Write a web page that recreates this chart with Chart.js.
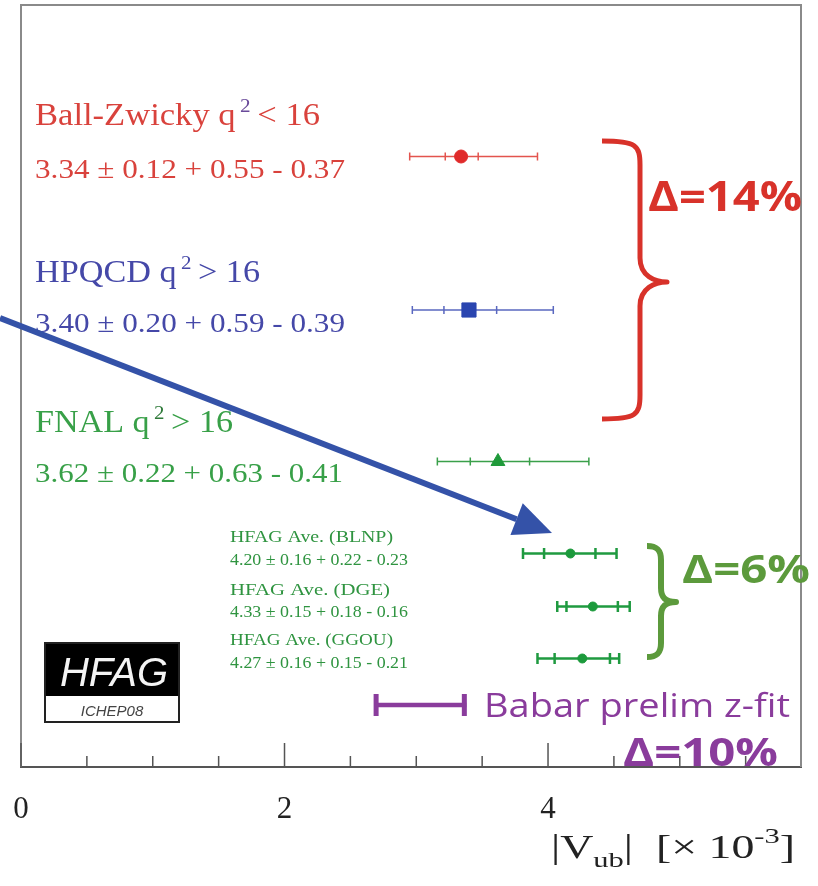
<!DOCTYPE html>
<html>
<head>
<meta charset="utf-8">
<script src="https://cdn.jsdelivr.net/npm/chart.js@4.4.0/dist/chart.umd.min.js"></script>
<style>
html, body { margin: 0; padding: 0; background: #fff; }
#wrap { width: 818px; height: 886px; }
</style>
</head>
<body>
<div id="wrap"><canvas id="vubChart" width="818" height="886"></canvas></div>
<script>
// |Vub| results, x in units of 10^-3, rows counted from the top
const rowNames = ['Ball-Zwicky', 'HPQCD', 'FNAL', 'HFAG BLNP', 'HFAG DGE', 'HFAG GGOU'];
const rowPos = [3.03, 6.1, 9.13, 10.97, 12.03, 13.07];
const centers = [3.34, 3.40, 3.62, 4.17, 4.34, 4.26];
const innerLo = [3.22, 3.21, 3.41, 3.97, 4.14, 4.05];
const innerHi = [3.47, 3.61, 3.86, 4.36, 4.53, 4.47];
const outerLo = [2.95, 2.97, 3.16, 3.81, 4.07, 3.92];
const outerHi = [3.92, 4.04, 4.31, 4.52, 4.62, 4.54];

// babar z-fit range
const babarRange = [2.68, 3.38];
const babarRow = 14.0;

// axis
const xMin = 0;
const xMax = 5.92;
const yMax = 15.24;
const tickLabels = [0, 2, 4];
const minorStep = 0.5;

// styles
const markerStyles = ['circle', 'rect', 'triangle', 'circle', 'circle', 'circle'];
const markerSizes = [6.5, 10, 8, 4.5, 4.5, 4.5];
const markerColors = ['#e02a2a', '#2a45b0', '#1f9a3a', '#1c9a3c', '#1c9a3c', '#1c9a3c'];
const barColors = ['#e3544e', '#5a68c0', '#3aa04a', '#1f9a40', '#1f9a40', '#1f9a40'];
const barWidths = [1.5, 1.5, 1.5, 2.5, 2.5, 2.5];
const capSizes = [4, 4, 4, 5.5, 5.5, 5.5];

const SERIF = '"Liberation Serif", "DejaVu Serif", serif';
const SANS = '"Open Sans", "DejaVu Sans", sans-serif';

// draws a run of text pieces, optionally stretched to a width
function drawRich(ctx, parts, x, y, width) {
    let total = 0;
    parts.forEach(p => {
        ctx.font = p.font;
        total += ctx.measureText(p.t).width + (p.gap || 0);
    });
    const sx = width ? width / total : 1;
    ctx.save();
    ctx.translate(x, y);
    ctx.scale(sx, 1);
    let cx = 0;
    parts.forEach(p => {
        ctx.font = p.font;
        ctx.fillStyle = p.color;
        ctx.fillText(p.t, cx, p.dy || 0);
        cx += ctx.measureText(p.t).width + (p.gap || 0);
    });
    ctx.restore();
}

function fitText(ctx, text, font, color, x, y, width) {
    drawRich(ctx, [{ t: text, font, color }], x, y, width);
}

function drawBrace(ctx, b) {
    const { x0, xs, xTip, top, mid, bottom, r, color, lw } = b;
    ctx.save();
    ctx.strokeStyle = color;
    ctx.lineWidth = lw;
    ctx.lineJoin = 'round';
    ctx.beginPath();
    ctx.moveTo(x0, top);
    ctx.bezierCurveTo(xs - 4, top, xs, top + 4, xs, top + r);
    ctx.lineTo(xs, mid - r);
    ctx.bezierCurveTo(xs, mid - 6, xTip - 12, mid, xTip, mid);
    ctx.bezierCurveTo(xTip - 12, mid, xs, mid + 6, xs, mid + r);
    ctx.lineTo(xs, bottom - r);
    ctx.bezierCurveTo(xs, bottom - 4, xs - 4, bottom, x0, bottom);
    ctx.stroke();
    ctx.restore();
}

// error bars + babar bar, drawn under the markers
const errorBars = {
    id: 'errorBars',
    beforeDatasetsDraw(chart) {
        const { ctx, scales: { x, y } } = chart;
        ctx.save();
        rowPos.forEach((row, i) => {
            const py = y.getPixelForValue(row);
            const lo = x.getPixelForValue(outerLo[i]);
            const hi = x.getPixelForValue(outerHi[i]);
            const c = capSizes[i];
            ctx.strokeStyle = barColors[i];
            ctx.lineWidth = barWidths[i];
            ctx.beginPath();
            ctx.moveTo(lo, py);
            ctx.lineTo(hi, py);
            [outerLo[i], outerHi[i], innerLo[i], innerHi[i]].forEach(v => {
                const pv = x.getPixelForValue(v);
                ctx.moveTo(pv, py - c);
                ctx.lineTo(pv, py + c);
            });
            ctx.stroke();
        });
        // babar
        const by = y.getPixelForValue(babarRow);
        const b0 = x.getPixelForValue(babarRange[0]);
        const b1 = x.getPixelForValue(babarRange[1]);
        ctx.strokeStyle = '#8a3c9c';
        ctx.lineWidth = 4.5;
        ctx.beginPath();
        ctx.moveTo(b0, by);
        ctx.lineTo(b1, by);
        ctx.stroke();
        ctx.lineWidth = 5;
        ctx.beginPath();
        ctx.moveTo(b0 + 2, by - 11);
        ctx.lineTo(b0 + 2, by + 11);
        ctx.moveTo(b1 - 2, by - 11);
        ctx.lineTo(b1 - 2, by + 11);
        ctx.stroke();
        ctx.restore();
    }
};

// frame, inward ticks, labels and annotations
const decorations = {
    id: 'decorations',
    afterDraw(chart) {
        const { ctx, chartArea: a, scales: { x } } = chart;
        ctx.save();
        // frame
        ctx.strokeStyle = '#8a8a8a';
        ctx.lineWidth = 2;
        ctx.beginPath();
        ctx.moveTo(a.left, a.bottom);
        ctx.lineTo(a.left, a.top);
        ctx.lineTo(a.right, a.top);
        ctx.lineTo(a.right, a.bottom);
        ctx.stroke();
        // ticks
        ctx.strokeStyle = '#555';
        ctx.lineWidth = 1.5;
        ctx.beginPath();
        for (let v = xMin; v < xMax; v += minorStep) {
            const px = x.getPixelForValue(v);
            const len = tickLabels.includes(v) ? 24 : 11;
            ctx.moveTo(px, a.bottom);
            ctx.lineTo(px, a.bottom - len);
        }
        ctx.stroke();

        // tick labels
        ctx.textAlign = 'center';
        ctx.textBaseline = 'alphabetic';
        ctx.font = '31px ' + SERIF;
        ctx.fillStyle = '#222';
        tickLabels.forEach(v => ctx.fillText(String(v), x.getPixelForValue(v), a.bottom + 51));

        ctx.textAlign = 'left';

        // measurement labels
        const big = '31px ' + SERIF;
        const sup = '19px ' + SERIF;
        const val = '27px ' + SERIF;
        drawRich(ctx, [
            { t: 'Ball-Zwicky q', font: big, color: '#d9423c', gap: 4 },
            { t: '2', font: sup, color: '#6a4a9a', dy: -13, gap: 6 },
            { t: '< 16', font: big, color: '#d9423c' }
        ], 35, 125, 285);
        fitText(ctx, '3.34 \u00b1 0.12 + 0.55 - 0.37', val, '#d9423c', 35, 178, 310);

        drawRich(ctx, [
            { t: 'HPQCD q', font: big, color: '#4548a8', gap: 4 },
            { t: '2', font: sup, color: '#4548a8', dy: -13, gap: 6 },
            { t: '> 16', font: big, color: '#4548a8' }
        ], 35, 282, 225);
        fitText(ctx, '3.40 \u00b1 0.20 + 0.59 - 0.39', val, '#4548a8', 35, 332, 310);

        drawRich(ctx, [
            { t: 'FNAL q', font: big, color: '#38a048', gap: 4 },
            { t: '2', font: sup, color: '#2f7a3a', dy: -13, gap: 6 },
            { t: '> 16', font: big, color: '#38a048' }
        ], 35, 432, 198);
        fitText(ctx, '3.62 \u00b1 0.22 + 0.63 - 0.41', val, '#38a048', 35, 482, 308);

        // HFAG averages
        const small = '16px ' + SERIF;
        const hfagLines = [
            ['HFAG Ave. (BLNP)', 542, 163],
            ['4.20 \u00b1 0.16 + 0.22 - 0.23', 565, 178],
            ['HFAG Ave. (DGE)', 595, 160],
            ['4.33 \u00b1 0.15 + 0.18 - 0.16', 617, 178],
            ['HFAG Ave. (GGOU)', 645, 163],
            ['4.27 \u00b1 0.16 + 0.15 - 0.21', 668, 178]
        ];
        hfagLines.forEach(([t, yy, w]) => fitText(ctx, t, small, '#2f9440', 230, yy, w));

        // braces and deltas
        drawBrace(ctx, { x0: 602, xs: 640, xTip: 667, top: 141, mid: 282, bottom: 419, r: 24, color: '#d8322a', lw: 5 });
        drawBrace(ctx, { x0: 647, xs: 661, xTip: 676, top: 546, mid: 602, bottom: 657, r: 14, color: '#5c9a3c', lw: 6 });

        fitText(ctx, '\u0394=14%', 'bold 42px ' + SANS, '#d8322a', 648, 211, 154);
        fitText(ctx, '\u0394=6%', 'bold 39px ' + SANS, '#5c9a3c', 682, 583, 128);
        fitText(ctx, '\u0394=10%', 'bold 40px ' + SANS, '#8a3c9c', 623, 766, 155);
        fitText(ctx, 'Babar prelim z-fit', '33px ' + SANS, '#8a3c9c', 484, 717, 306);

        // arrow
        const sx = 0, sy = 318, tx = 552, ty = 533;
        const ang = Math.atan2(ty - sy, tx - sx);
        const headLen = 38, headHalf = 17;
        const bx = tx - headLen * Math.cos(ang), byy = ty - headLen * Math.sin(ang);
        ctx.strokeStyle = '#3452a8';
        ctx.fillStyle = '#3452a8';
        ctx.lineWidth = 6;
        ctx.beginPath();
        ctx.moveTo(sx, sy);
        ctx.lineTo(bx, byy);
        ctx.stroke();
        ctx.beginPath();
        ctx.moveTo(tx, ty);
        ctx.lineTo(bx + headHalf * Math.sin(ang), byy - headHalf * Math.cos(ang));
        ctx.lineTo(bx - headHalf * Math.sin(ang), byy + headHalf * Math.cos(ang));
        ctx.closePath();
        ctx.fill();

        // HFAG logo
        ctx.fillStyle = '#000';
        ctx.fillRect(44, 642, 136, 54);
        ctx.fillStyle = '#fff';
        ctx.fillRect(44, 696, 136, 27);
        ctx.strokeStyle = '#222';
        ctx.lineWidth = 2;
        ctx.strokeRect(45, 643, 134, 79);
        ctx.textAlign = 'center';
        ctx.font = 'italic 40px "Liberation Sans", Arial, sans-serif';
        ctx.fillStyle = '#f4f4f4';
        ctx.fillText('HFAG', 114, 686);
        ctx.font = 'italic 15px "Liberation Sans", Arial, sans-serif';
        ctx.fillStyle = '#444';
        ctx.fillText('ICHEP08', 112, 716);

        // axis title
        ctx.textAlign = 'left';
        const ax = '33px ' + SERIF;
        const axs = '22px ' + SERIF;
        drawRich(ctx, [
            { t: '|V', font: ax, color: '#222' },
            { t: 'ub', font: axs, color: '#222', dy: 9 },
            { t: '|  [\u00d7 10', font: ax, color: '#222' },
            { t: '-3', font: axs, color: '#222', dy: -15 },
            { t: ']', font: ax, color: '#222' }
        ], 551, 858, 244);
        ctx.restore();
    }
};

const points = rowPos.map((row, i) => ({ x: centers[i], y: row }));

new Chart(document.getElementById('vubChart'), {
    type: 'scatter',
    data: {
        datasets: [{
            label: 'Vub',
            data: points,
            pointStyle: markerStyles,
            pointRadius: markerSizes,
            pointBackgroundColor: markerColors,
            pointBorderColor: markerColors,
            pointBorderWidth: 1
        }]
    },
    options: {
        responsive: false,
        animation: false,
        layout: { autoPadding: false, padding: { left: 21, right: 17, top: 5, bottom: 0 } },
        plugins: { legend: { display: false }, tooltip: { enabled: false } },
        scales: {
            x: {
                type: 'linear',
                min: xMin,
                max: xMax,
                grid: { display: false, drawTicks: false },
                border: { display: true, color: '#555', width: 2 },
                ticks: { display: false, stepSize: minorStep },
                afterFit: scale => { scale.height = 119; }
            },
            y: {
                type: 'linear',
                display: false,
                reverse: true,
                min: 0,
                max: yMax
            }
        }
    },
    plugins: [errorBars, decorations]
});
</script>
</body>
</html>
